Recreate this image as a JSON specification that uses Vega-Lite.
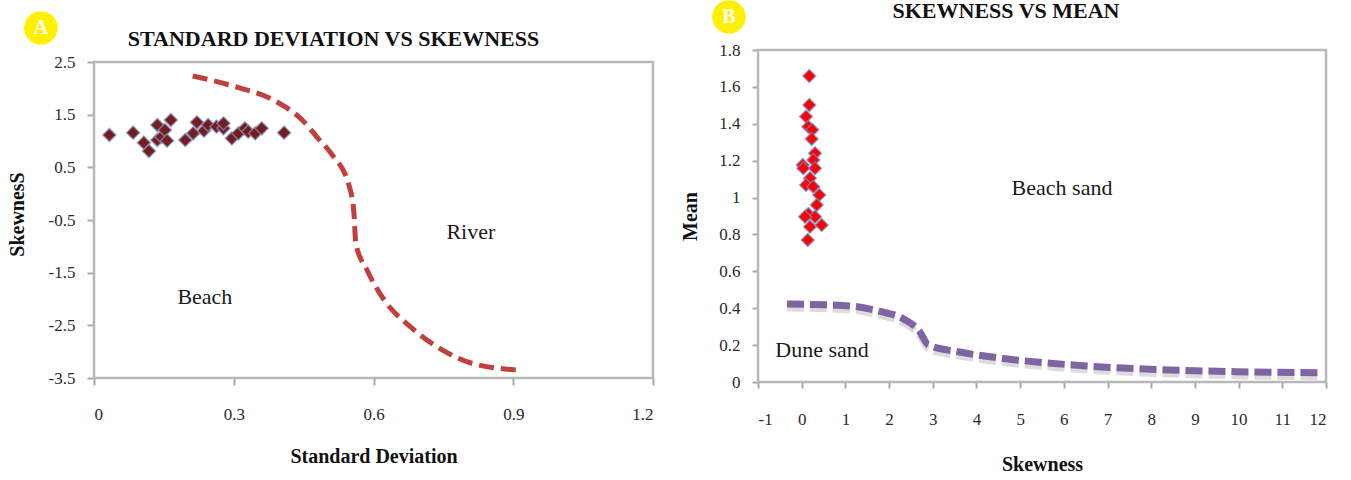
{
  "$schema": "https://vega.github.io/schema/vega-lite/v6.json",
  "autosize": {"type": "none"},
  "padding": {"left": 94, "top": 50, "right": 1257, "bottom": 430},
  "bounds": "flush",
  "spacing": 105,
  "config": {
    "view": {"stroke": null},
    "font": "Liberation Serif",
    "axis": {
      "labelFont": "Liberation Serif", "titleFont": "Liberation Serif",
      "labelFontSize": 17, "titleFontSize": 20, "titleFontWeight": "bold",
      "labelColor": "#2a2a2a", "titleColor": "#111111",
      "grid": false, "domain": false,
      "tickColor": "#a8a8a8", "tickWidth": 2
    },
    "title": {"font": "Liberation Serif", "fontSize": 22, "fontWeight": "bold", "color": "#111111"}
  },
  "datasets": {
    "ptsA": [
      {"x": 0.033, "y": 1.114}, {"x": 0.084, "y": 1.158}, {"x": 0.107, "y": 0.968}, {"x": 0.118, "y": 0.81},
      {"x": 0.136, "y": 1.304}, {"x": 0.136, "y": 1.019}, {"x": 0.145, "y": 1.08}, {"x": 0.152, "y": 1.209},
      {"x": 0.157, "y": 1.006}, {"x": 0.165, "y": 1.399}, {"x": 0.196, "y": 1.019}, {"x": 0.213, "y": 1.146},
      {"x": 0.221, "y": 1.355}, {"x": 0.236, "y": 1.196}, {"x": 0.245, "y": 1.304}, {"x": 0.263, "y": 1.272},
      {"x": 0.278, "y": 1.241}, {"x": 0.278, "y": 1.336}, {"x": 0.296, "y": 1.051}, {"x": 0.31, "y": 1.146},
      {"x": 0.324, "y": 1.241}, {"x": 0.331, "y": 1.177}, {"x": 0.346, "y": 1.146}, {"x": 0.36, "y": 1.241},
      {"x": 0.408, "y": 1.158}
    ],
    "curveA": [
      {"x": 0.212, "y": 2.234}, {"x": 0.3, "y": 2.04}, {"x": 0.393, "y": 1.74}, {"x": 0.447, "y": 1.4},
      {"x": 0.481, "y": 1.05}, {"x": 0.511, "y": 0.74}, {"x": 0.547, "y": 0.17}, {"x": 0.558, "y": -0.373},
      {"x": 0.562, "y": -0.942}, {"x": 0.586, "y": -1.449}, {"x": 0.623, "y": -2.019}, {"x": 0.679, "y": -2.526},
      {"x": 0.736, "y": -2.906}, {"x": 0.811, "y": -3.22}, {"x": 0.909, "y": -3.348}
    ],
    "labA": [
      {"x": 0.238, "y": -1.962, "label": "Beach"},
      {"x": 0.809, "y": -0.728, "label": "River"}
    ],
    "frameA": [{"x": 0, "x1": 1.2, "y": -3.5, "y1": 2.5}],
    "badgeA": [{"x": -0.114, "y": 3.146, "label": "A"}],
    "ptsB": [
      {"x": 0.174, "y": 1.659}, {"x": 0.174, "y": 1.502}, {"x": 0.099, "y": 1.439}, {"x": 0.151, "y": 1.384},
      {"x": 0.243, "y": 1.367}, {"x": 0.229, "y": 1.318}, {"x": 0.305, "y": 1.24}, {"x": 0.023, "y": 1.177},
      {"x": 0.266, "y": 1.204}, {"x": 0.305, "y": 1.159}, {"x": 0.037, "y": 1.159}, {"x": 0.19, "y": 1.105},
      {"x": 0.099, "y": 1.068}, {"x": 0.266, "y": 1.059}, {"x": 0.403, "y": 1.014}, {"x": 0.344, "y": 0.96},
      {"x": 0.151, "y": 0.911}, {"x": 0.305, "y": 0.896}, {"x": 0.076, "y": 0.896}, {"x": 0.19, "y": 0.842},
      {"x": 0.458, "y": 0.851}, {"x": 0.138, "y": 0.77}
    ],
    "curveB": [
      {"x": -0.336, "y": 0.423}, {"x": 1.133, "y": 0.412}, {"x": 1.818, "y": 0.381}, {"x": 2.307, "y": 0.345},
      {"x": 2.699, "y": 0.273}, {"x": 2.896, "y": 0.201}, {"x": 3.58, "y": 0.164}, {"x": 4.56, "y": 0.129},
      {"x": 5.539, "y": 0.105}, {"x": 6.519, "y": 0.087}, {"x": 7.988, "y": 0.069}, {"x": 9.948, "y": 0.056},
      {"x": 11.81, "y": 0.05}
    ],
    "labB": [
      {"x": 5.958, "y": 1.052, "label": "Beach sand"},
      {"x": 0.465, "y": 0.174, "label": "Dune sand"}
    ],
    "frameB": [{"x": -1, "x1": 12, "y": 0, "y1": 1.8}],
    "badgeB": [{"x": -1.664, "y": 1.979, "label": "B"}]
  },
  "hconcat": [
    {
      "width": 559,
      "height": 328,
      "title": {"text": "STANDARD DEVIATION VS SKEWNESS", "frame": "group", "anchor": "middle", "dx": -40, "dy": 57, "offset": 0, "baseline": "alphabetic"},
      "encoding": {
        "x": {"field": "x", "type": "quantitative", "scale": {"domain": [0, 1.2], "nice": false, "zero": false},
              "axis": {"values": [0, 0.3, 0.6, 0.9, 1.2], "format": "~g", "title": "Standard Deviation", "tickSize": 7, "labelPadding": 21, "titlePadding": 24}},
        "y": {"field": "y", "type": "quantitative", "scale": {"domain": [-3.5, 2.728], "nice": false, "zero": false},
              "axis": {"values": [-3.5, -2.5, -1.5, -0.5, 0.5, 1.5, 2.5], "format": ".1f", "labelExpr": "replace(datum.label, '\u2212', '-')", "title": "SkewnesS", "tickSize": 7, "labelPadding": 12, "titlePadding": 21}}
      },
      "layer": [
        {"data": {"name": "frameA"}, "mark": {"type": "rect", "fill": null, "stroke": "#b8b8b8", "strokeWidth": 2.5},
         "encoding": {"x2": {"field": "x1"}, "y2": {"field": "y1"}}},
        {"data": {"name": "curveA"}, "mark": {"type": "line", "color": "#c0403f", "strokeWidth": 5, "strokeDash": [15, 7], "interpolate": "monotone"}},
        {"data": {"name": "ptsA"}, "mark": {"type": "point", "shape": "diamond", "filled": true, "size": 175, "fill": "#761c1f", "stroke": "#7f95c0", "strokeWidth": 1.5, "strokeOpacity": 0.7, "opacity": 1}},
        {"data": {"name": "labA"}, "mark": {"type": "text", "fontSize": 22, "font": "Liberation Serif", "color": "#1a1a1a", "align": "center", "baseline": "middle"},
         "encoding": {"text": {"field": "label"}}},
        {"data": {"name": "badgeA"}, "mark": {"type": "point", "shape": "circle", "filled": true, "size": 1130, "color": "#fff000", "opacity": 1, "clip": false}},
        {"data": {"name": "badgeA"}, "mark": {"type": "text", "fontSize": 20, "fontWeight": "bold", "font": "Liberation Serif", "color": "#ffffff", "align": "center", "baseline": "middle", "clip": false},
         "encoding": {"text": {"field": "label"}}}
      ]
    },
    {
      "width": 568,
      "height": 332,
      "title": {"text": "SKEWNESS VS MEAN", "frame": "group", "anchor": "middle", "dx": -36, "dy": 40, "offset": 0, "baseline": "alphabetic"},
      "encoding": {
        "x": {"field": "x", "type": "quantitative", "scale": {"domain": [-1, 12], "nice": false, "zero": false},
              "axis": {"values": [-1, 0, 1, 2, 3, 4, 5, 6, 7, 8, 9, 10, 11, 12], "format": "d", "labelExpr": "replace(datum.label, '\u2212', '-')", "title": "Skewness", "tickSize": 6, "labelPadding": 23, "titlePadding": 27}},
        "y": {"field": "y", "type": "quantitative", "scale": {"domain": [0, 1.8], "nice": false, "zero": false},
              "axis": {"values": [0, 0.2, 0.4, 0.6, 0.8, 1, 1.2, 1.4, 1.6, 1.8], "format": "~g", "title": "Mean", "tickSize": 6, "labelPadding": 12, "titlePadding": 18}}
      },
      "layer": [
        {"data": {"name": "frameB"}, "mark": {"type": "rect", "fill": null, "stroke": "#b8b8b8", "strokeWidth": 2.5},
         "encoding": {"x2": {"field": "x1"}, "y2": {"field": "y1"}}},
        {"data": {"name": "curveB"}, "mark": {"type": "line", "color": "#9a9a9a", "opacity": 0.35, "strokeWidth": 7, "strokeDash": [17, 6], "interpolate": "monotone", "yOffset": 4}},
        {"data": {"name": "curveB"}, "mark": {"type": "line", "color": "#8064a2", "strokeWidth": 7, "strokeDash": [17, 6], "interpolate": "monotone"}},
        {"data": {"name": "ptsB"}, "mark": {"type": "point", "shape": "diamond", "filled": true, "size": 165, "fill": "#ff0000", "stroke": "#7a88c0", "strokeWidth": 1.5, "strokeOpacity": 0.7, "opacity": 1}},
        {"data": {"name": "labB"}, "mark": {"type": "text", "fontSize": 22, "font": "Liberation Serif", "color": "#1a1a1a", "align": "center", "baseline": "middle"},
         "encoding": {"text": {"field": "label"}}},
        {"data": {"name": "badgeB"}, "mark": {"type": "point", "shape": "circle", "filled": true, "size": 1130, "color": "#fff000", "opacity": 1, "clip": false}},
        {"data": {"name": "badgeB"}, "mark": {"type": "text", "fontSize": 20, "fontWeight": "bold", "font": "Liberation Serif", "color": "#ffffff", "align": "center", "baseline": "middle", "clip": false},
         "encoding": {"text": {"field": "label"}}}
      ]
    }
  ]
}
